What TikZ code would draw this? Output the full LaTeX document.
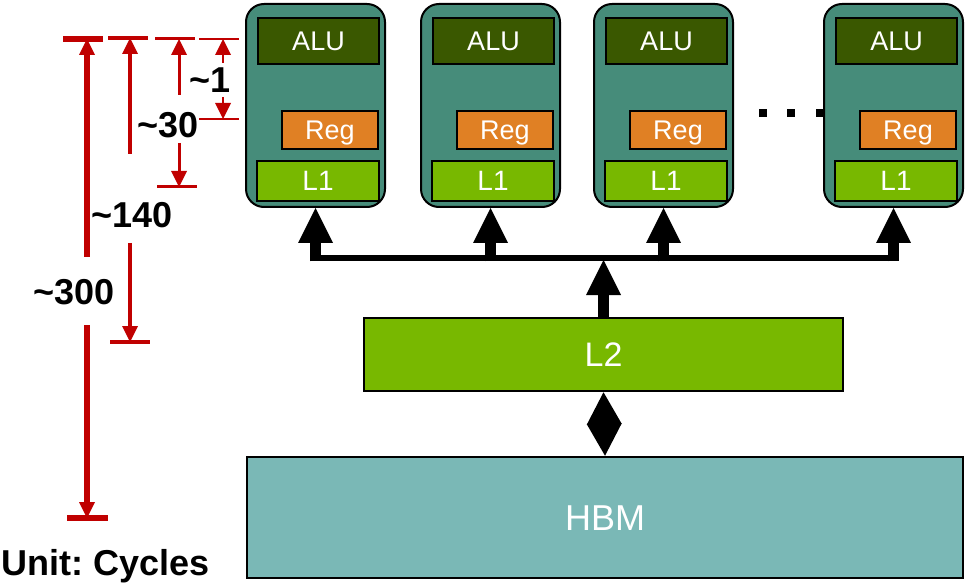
\documentclass[tikz,border=0pt]{standalone}
\usepackage{fontspec}
\setmainfont{Liberation Sans}
\usetikzlibrary{arrows.meta,calc}

\definecolor{coreteal}{RGB}{70,140,122}
\definecolor{aludark}{RGB}{58,88,0}
\definecolor{regorange}{RGB}{224,128,36}
\definecolor{cachegreen}{RGB}{120,184,0}
\definecolor{hbmteal}{RGB}{122,184,182}
\definecolor{dimred}{RGB}{192,0,0}

\begin{document}
\begin{tikzpicture}[x=1pt,y=-1pt,
  box/.style={rectangle,draw=black,line width=1.6pt,inner sep=0pt,
    text=white,text depth=0pt},
  core/.style={box,fill=coreteal,line width=2pt,rounded corners=18pt,
    minimum width=139pt,minimum height=203pt},
  alubox/.style={box,fill=aludark,minimum width=121pt,minimum height=46pt,
    font=\fontsize{27}{30}\selectfont,text height=19.3pt},
  regbox/.style={box,fill=regorange,minimum width=96pt,minimum height=38pt,
    font=\fontsize{27}{30}\selectfont,text height=19.3pt},
  lonebox/.style={box,fill=cachegreen,minimum width=122pt,minimum height=40pt,
    font=\fontsize{28}{30}\selectfont,text height=20pt},
  ltwobox/.style={box,fill=cachegreen,line width=2.5pt,minimum width=479pt,
    minimum height=73pt,font=\fontsize{34}{36}\selectfont,text height=24.3pt},
  hbmbox/.style={box,fill=hbmteal,line width=2.5pt,minimum width=716pt,
    minimum height=121pt,font=\fontsize{36}{40}\selectfont,text height=25.8pt},
  bus/.style={draw=black,line width=6.5pt},
  uparrow/.style={draw=black,line width=11pt,
    -{Triangle[width=35pt,length=35pt,line width=0pt]}},
  duplex/.style={draw=black,line width=1pt,
    {Triangle[width=35pt,length=32pt,line width=0pt]}-{Triangle[width=35pt,length=32pt,line width=0pt]}},
  dimlbl/.style={inner sep=0pt,text=black,text height=25.8pt,text depth=0pt,
    font=\fontsize{36}{40}\selectfont\bfseries},
  dimline/.style={draw=dimred},
  dimarrow/.style={draw=dimred,-{Triangle[width=16pt,length=16pt,line width=0pt]}},
  dotmark/.style={rectangle,fill=black,inner sep=0pt,minimum size=8pt}
]
\useasboundingbox (0,0) rectangle (966,585);

% ---- processing cores ----
\foreach \i/\x in {1/246,2/421,3/594,4/824}{
  \node[core] (core\i) at (\x+69.5,105.5) {};
  \node[alubox] (alu\i) at (\x+72.5,41) {ALU};
  \node[regbox] (reg\i) at (\x+84,130) {Reg};
  \node[lonebox] (lone\i) at (\x+72,181) {L1};
}

% ellipsis between the third and fourth core
\node[dotmark] (dota) at (762.5,113) {};
\node[dotmark] (dotb) at (791,113) {};
\node[dotmark] (dotc) at (819.5,113) {};

% ---- shared cache and memory ----
\node[ltwobox] (ltwo) at (603.5,354.5) {L2};
\node[hbmbox] (hbm) at (605,517.5) {HBM};

% ---- interconnect ----
\coordinate (busL) at ($(core1.south)+(-5.5,50)$);
\coordinate (busR) at ($(core4.south)+(5.5,50)$);
\draw[bus] (busL) -- (busR);
\foreach \i in {1,2,3,4}{
  \draw[uparrow] ($(core\i.south)+(0,53.3)$) -- (core\i.south);
}
\coordinate (busjoin) at ($(ltwo.north |- busL)+(0,2)$);
\draw[uparrow] (ltwo.north) -- (busjoin);
\draw[duplex] (ltwo.south) -- (hbm.north);

% ---- latency markers ----
% ~300
\draw[dimline,line width=6pt] (63,39) -- (103,39);
\draw[dimline,line width=6pt] (67,518) -- (108,518);
\node[dimlbl] (lbl300) at (74,292) {\textasciitilde300};
\draw[dimarrow,line width=6pt] (87,257) -- (87,39);
\draw[dimarrow,line width=6pt] (87,325) -- (87,518);
% ~140
\draw[dimline,line width=4pt] (108,38) -- (148,38);
\draw[dimline,line width=4pt] (110,342) -- (150,342);
\node[dimlbl] (lbl140) at (132,215) {\textasciitilde140};
\draw[dimarrow,line width=4pt] (130,154) -- (130,38);
\draw[dimarrow,line width=4pt] (130,243) -- (130,342);
% ~30
\draw[dimline,line width=3pt] (155,39) -- (195,39);
\draw[dimline,line width=3pt] (157,187) -- (197,187);
\node[dimlbl] (lbl30) at (168,125) {\textasciitilde30};
\draw[dimarrow,line width=3pt] (179,95) -- (179,39);
\draw[dimarrow,line width=3pt] (179,143) -- (179,187);
% ~1
\draw[dimline,line width=2pt] (199,39) -- (239,39);
\draw[dimline,line width=2pt] (199,119) -- (239,119);
\node[dimlbl] (lbl1) at (210,80) {\textasciitilde1};
\draw[dimarrow,line width=2pt] (223,63) -- (223,39);
\draw[dimarrow,line width=2pt] (223,97) -- (223,119);

\node[dimlbl,anchor=base] (unit) at (106,575) {Unit:\ Cycles};
\end{tikzpicture}
\end{document}
